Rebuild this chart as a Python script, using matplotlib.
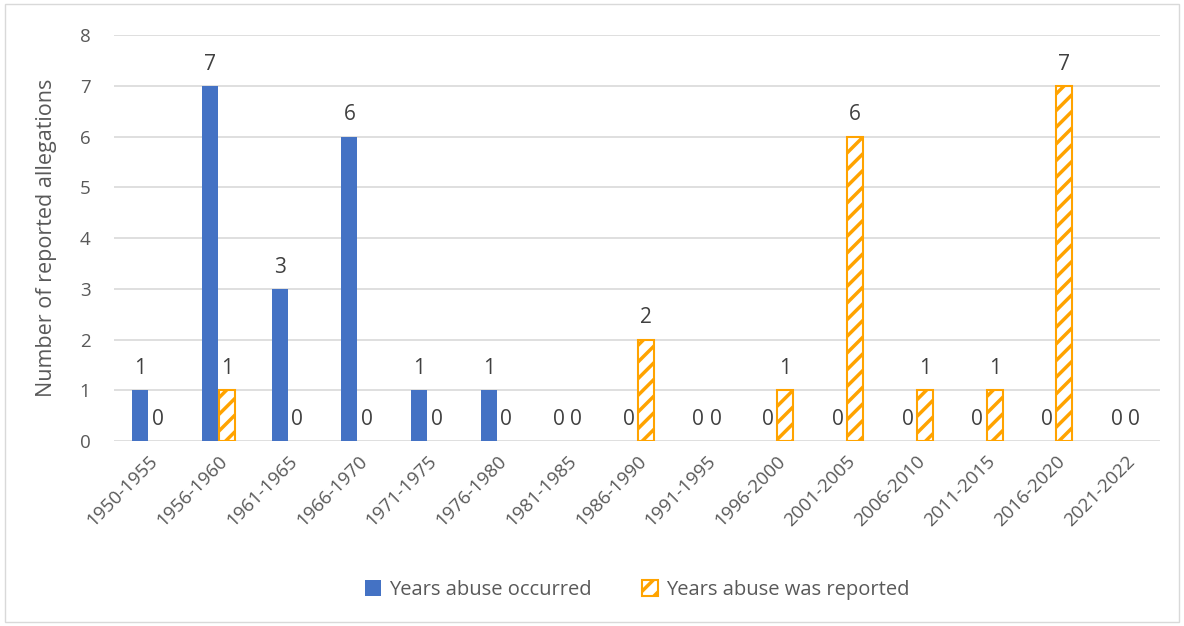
import matplotlib.pyplot as plt
import numpy as np
from matplotlib.patches import Patch, Rectangle

periods = ["1950-1955", "1956-1960", "1961-1965", "1966-1970", "1971-1975",
           "1976-1980", "1981-1985", "1986-1990", "1991-1995", "1996-2000",
           "2001-2005", "2006-2010", "2011-2015", "2016-2020", "2021-2022"]
occurred = [1, 7, 3, 6, 1, 1, 0, 0, 0, 0, 0, 0, 0, 0, 0]
reported = [0, 1, 0, 0, 0, 0, 0, 2, 0, 1, 6, 1, 1, 7, 0]

plt.rcParams["font.family"] = ["Open Sans", "DejaVu Sans"]
plt.rcParams["hatch.linewidth"] = 2.5

grey = "#595959"
blue = "#4472C4"
orange = "#FFA300"

fig = plt.figure(figsize=(11.84, 6.26), dpi=100)
ax = fig.add_axes([0.0963, 0.2955, 0.8837, 0.6485])

x = np.arange(len(periods))
w = 0.23
b1 = ax.bar(x - 0.125, occurred, w, color=blue, zorder=3)
b2 = ax.bar(x + 0.125, reported, w, facecolor="white", edgecolor=orange, hatch="//",
            linewidth=1.5, zorder=3)

for bars in (b1, b2):
    for r in bars:
        h = r.get_height()
        if h == 0:
            r.set_visible(False)
        ax.text(r.get_x() + r.get_width() / 2, h + 0.22, f"{h:g}", ha="center",
                va="bottom", fontsize=15, color="#404040")

ax.set_xlim(-0.5, len(periods) - 0.5)
ax.set_ylim(0, 8)
ax.set_yticks(range(9))
ax.set_xticks(x)
ax.set_xticklabels(periods, rotation=45, ha="right", rotation_mode="anchor")
ax.tick_params(axis="both", length=0, labelsize=13.5, labelcolor=grey)
ax.tick_params(axis="y", pad=17)
ax.tick_params(axis="x", pad=8)
ax.grid(axis="y", color="#D9D9D9", linewidth=1.2, zorder=0)
for s in ax.spines.values():
    s.set_visible(False)
ax.set_ylabel("Number of reported allegations", fontsize=15.5, color=grey, labelpad=16)

handles = [
    Patch(facecolor=blue, label="Years abuse occurred"),
    Patch(facecolor="white", edgecolor=orange, hatch="//", linewidth=1.5,
          label="Years abuse was reported"),
]
ax.legend(handles=handles, loc="center", bbox_to_anchor=(0.5, -0.367), ncol=2,
          frameon=False, fontsize=14.5, labelcolor=grey, handlelength=0.8,
          handleheight=0.8, columnspacing=2.5, handletextpad=0.4)

fig.patches.append(Rectangle((0.004, 0.006), 0.992, 0.988, transform=fig.transFigure,
                             fill=False, edgecolor="#D9D9D9", linewidth=1))

fig.savefig("out.png", dpi=100)
